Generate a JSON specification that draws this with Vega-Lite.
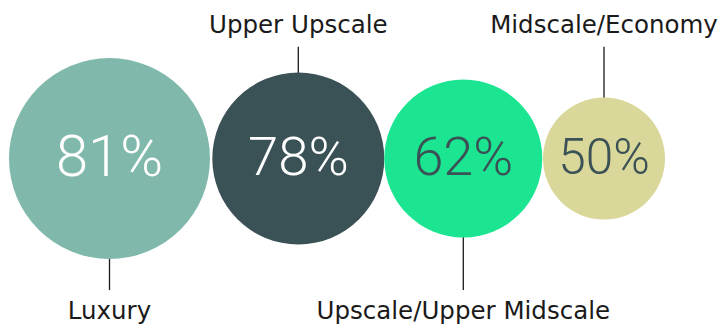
{
  "$schema": "https://vega.github.io/schema/vega-lite/v6.json",
  "width": 723,
  "height": 324,
  "autosize": {"type": "none"},
  "padding": 0,
  "background": "white",
  "config": {"view": {"stroke": null}},
  "data": {
    "values": [
      {"order": 1, "category": "Luxury", "value": 81},
      {"order": 2, "category": "Upper Upscale", "value": 78},
      {"order": 3, "category": "Upscale/Upper Midscale", "value": 62},
      {"order": 4, "category": "Midscale/Economy", "value": 50}
    ]
  },
  "encoding": {
    "x": {
      "field": "order",
      "type": "quantitative",
      "axis": null,
      "scale": {"domain": [1, 2, 3, 4], "range": [109.5, 298.3, 463.3, 604]}
    }
  },
  "layer": [
    {
      "transform": [{"filter": "datum.order % 2 == 0"}],
      "mark": {"type": "rule", "color": "#1a1a1a", "strokeWidth": 1.3},
      "encoding": {
        "y": {"datum": 0, "type": "quantitative", "axis": null, "scale": {"domain": [-1.044, 1], "nice": false, "zero": false}},
        "y2": {"datum": 0.705}
      }
    },
    {
      "transform": [{"filter": "datum.order % 2 == 1"}],
      "mark": {"type": "rule", "color": "#1a1a1a", "strokeWidth": 1.3},
      "encoding": {
        "y": {"datum": 0, "type": "quantitative", "axis": null, "scale": {"domain": [-1.044, 1], "nice": false, "zero": false}},
        "y2": {"datum": -0.83}
      }
    },
    {
      "mark": {"type": "circle", "opacity": 1},
      "encoding": {
        "y": {"datum": 0, "type": "quantitative", "axis": null, "scale": {"domain": [-1.044, 1], "nice": false, "zero": false}},
        "size": {
          "field": "value",
          "type": "quantitative",
          "legend": null,
          "scale": {"domain": [50, 62, 78, 81], "range": [14884, 24964, 29584, 40401]}
        },
        "color": {
          "field": "category",
          "type": "nominal",
          "legend": null,
          "scale": {
            "domain": ["Luxury", "Upper Upscale", "Upscale/Upper Midscale", "Midscale/Economy"],
            "range": ["#80b9ab", "#3a5155", "#1ce592", "#dad79a"]
          }
        }
      }
    },
    {
      "mark": {
        "type": "text",
        "font": "Roboto",
        "fontWeight": 300,
        "baseline": "middle",
        "align": "center",
        "text": {"expr": "datum.value + '%'"}
      },
      "encoding": {
        "y": {"datum": 0, "type": "quantitative", "axis": null, "scale": {"domain": [-1.044, 1], "nice": false, "zero": false}},
        "size": {
          "field": "value",
          "type": "quantitative",
          "legend": null,
          "scale": {"domain": [50, 62, 78, 81], "range": [49.5, 54, 54.5, 58]}
        },
        "color": {
          "condition": {"test": "datum.value >= 70", "value": "#ffffff"},
          "value": "#3a5155"
        }
      }
    },
    {
      "transform": [{"filter": "datum.order % 2 == 0"}],
      "mark": {"type": "text", "font": "DejaVu Sans", "fontSize": 24.5, "baseline": "alphabetic", "align": "center", "color": "#1a1a1a"},
      "encoding": {
        "y": {"datum": 0.792, "type": "quantitative", "axis": null, "scale": {"domain": [-1.044, 1], "nice": false, "zero": false}},
        "text": {"field": "category"}
      }
    },
    {
      "transform": [{"filter": "datum.order % 2 == 1"}],
      "mark": {"type": "text", "font": "DejaVu Sans", "fontSize": 24.5, "baseline": "alphabetic", "align": "center", "color": "#1a1a1a"},
      "encoding": {
        "y": {"datum": -1.013, "type": "quantitative", "axis": null, "scale": {"domain": [-1.044, 1], "nice": false, "zero": false}},
        "text": {"field": "category"}
      }
    }
  ],
  "resolve": {"scale": {"size": "independent", "color": "independent"}}
}
